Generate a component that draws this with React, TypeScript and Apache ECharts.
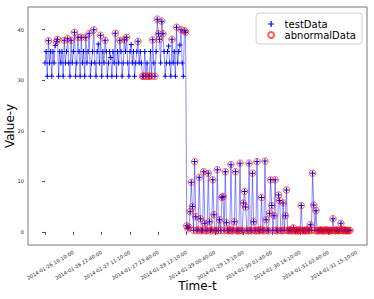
import React, { useEffect, useRef } from "react";
import * as echarts from "echarts";

// Hours since 2014-01-26 10:10:00, sampled every half hour
const stepHours = 0.5;
const tickHours = [0, 12.5, 25, 37.5, 50, 62.5, 75, 87.5, 100, 112.5, 125];
const tickLabels = [
  "2014-01-26 10:10:00",
  "2014-01-26 22:40:00",
  "2014-01-27 11:10:00",
  "2014-01-27 23:40:00",
  "2014-01-28 12:10:00",
  "2014-01-29 00:40:00",
  "2014-01-29 13:10:00",
  "2014-01-30 01:40:00",
  "2014-01-30 14:10:00",
  "2014-01-31 02:40:00",
  "2014-01-31 15:10:00",
];
const yTicks = [0, 10, 20, 30, 40];

// Before the drop (0 h .. 62 h)
const firstPeriod = [
  33.4, 35.7, 30.8, 37.8, 33.4, 35.7, 30.8, 35.7, 33.4, 36.9,
  37.6, 38.1, 30.8, 35.7, 33.4, 35.7, 30.8, 37.9, 33.4, 35.7,
  38.2, 33.4, 30.8, 37.9, 33.4, 35.7, 39.5, 30.8, 33.4, 38.5,
  35.7, 30.8, 38.5, 33.4, 35.7, 30.8, 38.5, 33.4, 35.7, 39.3,
  30.8, 33.4, 35.7, 40.0, 33.4, 30.8, 35.7, 37.2, 33.4, 38.9,
  30.8, 35.7, 33.4, 37.9, 35.7, 30.8, 33.4, 35.7, 34.5, 30.8,
  35.7, 33.4, 39.3, 30.8, 35.7, 33.4, 37.9, 35.7, 30.8, 33.4,
  38.0, 35.7, 38.5, 33.4, 30.8, 35.7, 37.1, 33.4, 35.7, 30.8,
  33.4, 35.7, 37.7, 33.4, 35.7, 33.4, 30.8, 30.8, 35.7, 30.8,
  33.4, 30.8, 30.8, 35.7, 30.8, 38.0, 33.4, 30.8, 35.7, 42.1,
  39.2, 38.1, 33.4, 41.7, 39.2, 35.7, 30.8, 33.4, 35.7, 36.8,
  33.4, 30.8, 38.1, 33.4, 35.7, 30.8, 40.5, 33.4, 35.7, 37.0,
  40.0, 33.4, 30.8, 39.8, 39.5,
];

// After the drop (62.5 h .. 134.5 h)
const secondPeriod = [
  1.2, 0.6, 0.9, 4.0, 9.8, 5.0, 0.3, 13.9, 3.0, 0.2,
  0.4, 10.8, 2.6, 0.2, 0.3, 11.9, 1.7, 0.2, 0.3, 11.6,
  2.0, 0.2, 0.4, 10.3, 3.4, 0.2, 0.3, 12.3, 0.2, 2.4,
  0.3, 6.8, 7.0, 0.2, 11.9, 1.8, 0.3, 0.2, 0.4, 13.3,
  0.2, 0.3, 2.0, 11.9, 0.2, 0.3, 0.2, 13.6, 0.3, 0.2,
  5.7, 8.0, 4.9, 0.3, 0.2, 13.6, 0.3, 0.2, 11.6, 2.0,
  0.3, 0.2, 13.9, 0.3, 0.2, 0.4, 6.8, 0.3, 0.2, 14.0,
  2.4, 0.3, 0.2, 3.7, 10.3, 5.2, 0.3, 3.2, 10.3, 0.3,
  0.2, 7.3, 6.2, 0.3, 0.2, 5.7, 0.3, 3.2, 8.3, 0.3,
  0.2, 0.4, 0.3, 0.2, 0.8, 0.3, 0.2, 0.3, 0.2, 0.4,
  0.3, 5.2, 0.3, 0.2, 0.3, 0.2, 0.4, 0.3, 0.2, 1.4,
  0.3, 11.6, 5.3, 0.3, 4.2, 0.2, 0.3, 0.2, 0.4, 0.3,
  0.2, 0.3, 0.2, 0.4, 0.3, 0.2, 0.3, 0.2, 0.3, 2.6,
  0.3, 0.2, 0.4, 0.3, 0.2, 0.3, 1.7, 0.3, 0.2, 0.4,
  0.3, 0.2, 0.3, 0.2, 0.3,
];

// Abnormal samples before the drop (hours); every sample after the drop is abnormal
const abnormalHoursBefore = [
  1.5, 5, 5.5, 8.5, 10, 11.5, 13, 14.5, 16, 18, 19.5, 21.5, 24.5, 26.5, 31, 33,
  35, 36, 41, 43, 43.5, 44.5, 45.5, 46, 47, 47.5, 48.5, 49.5, 50, 50.5, 51.5,
  52, 56, 58, 60, 61.5, 62,
];
const abnormalFromHour = 62.5;

const PLUS = "path://M4,0H6V4H10V6H6V10H4V6H0V4H4Z";
const FONT = "DejaVu Sans";

export default function App() {
  const ref = useRef<HTMLDivElement>(null);
  useEffect(() => {
    if (!ref.current) return;
    const chart = echarts.init(ref.current, undefined, { renderer: "svg" });
    const values = firstPeriod.concat(secondPeriod);
    const testData = values.map((v, i) => [i * stepHours, v]);
    const abnormalData = testData.filter(
      ([h]) => h >= abnormalFromHour || abnormalHoursBefore.includes(h)
    );
    chart.setOption({
      animation: false,
      grid: {
        left: 28,
        top: 7,
        right: 7,
        bottom: 54,
        show: true,
        borderColor: "#777",
        borderWidth: 1,
        backgroundColor: "transparent",
        outerBoundsMode: "none",
      },
      legend: {
        right: 12,
        top: 13,
        orient: "vertical",
        padding: [6, 6, 4, 11],
        itemGap: 1,
        itemWidth: 6,
        itemHeight: 6,
        symbolKeepAspect: true,
        borderColor: "#d0d0d0",
        borderWidth: 1,
        borderRadius: 3,
        selectedMode: false,
        textStyle: {
          fontFamily: FONT,
          fontSize: 10,
          color: "#000",
          padding: [0, 0, 0, 5.5],
        },
        data: [
          { name: "testData", icon: PLUS },
          { name: "abnormalData", icon: "circle" },
        ],
      },
      xAxis: {
        type: "value",
        min: -7.5,
        max: 142,
        name: "Time-t",
        nameLocation: "middle",
        nameGap: 35,
        nameMoveOverlap: false,
        nameTextStyle: { fontFamily: FONT, fontSize: 12, color: "#000" },
        axisLine: { show: false },
        splitLine: { show: false },
        axisTick: {
          show: true,
          length: 3,
          customValues: tickHours,
          lineStyle: { color: "#555" },
        },
        axisLabel: {
          customValues: tickHours,
          rotate: 30,
          align: "center",
          verticalAlign: "middle",
          margin: 23,
          padding: [0, 0, 0, 12],
          fontFamily: FONT,
          fontSize: 5,
          color: "#222",
          formatter: (v: number) => {
            const idx = tickHours.indexOf(v);
            return idx >= 0 ? tickLabels[idx] : "";
          },
        },
      },
      yAxis: {
        type: "value",
        min: -2.6,
        max: 44.5,
        name: "Value-y",
        nameLocation: "middle",
        nameGap: 12,
        nameMoveOverlap: false,
        nameTextStyle: { fontFamily: FONT, fontSize: 12, color: "#000" },
        axisLine: { show: false },
        splitLine: { show: false },
        axisTick: {
          show: true,
          length: 3,
          customValues: yTicks,
          lineStyle: { color: "#555" },
        },
        axisLabel: {
          customValues: yTicks,
          margin: 4,
          fontFamily: FONT,
          fontSize: 5.2,
          color: "#222",
        },
      },
      series: [
        {
          name: "testData",
          type: "line",
          data: testData,
          symbol: PLUS,
          symbolSize: 5,
          showSymbol: true,
          showAllSymbol: true,
          itemStyle: { color: "#0000ff" },
          lineStyle: { color: "rgba(0,0,255,0.45)", width: 1 },
          emphasis: { disabled: true },
          z: 2,
        },
        {
          name: "abnormalData",
          type: "scatter",
          data: abnormalData,
          symbol: "circle",
          symbolSize: 6.5,
          itemStyle: {
            color: "rgba(0,0,0,0)",
            borderColor: "rgba(255,0,0,0.8)",
            borderWidth: 1,
          },
          emphasis: { disabled: true },
          z: 3,
        },
      ],
    });
    return () => chart.dispose();
  }, []);
  return <div ref={ref} style={{ width: 374, height: 299, position: "absolute", left: 0, top: 0 }} />;
}
